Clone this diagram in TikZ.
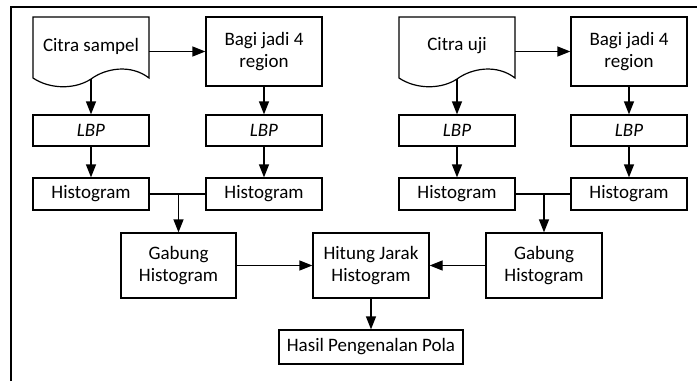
\documentclass[tikz,border=0pt]{standalone}
\usepackage{fontspec}
\setmainfont{Carlito}
\usetikzlibrary{arrows.meta}
\begin{document}
\begin{tikzpicture}[x=1pt,y=-1pt,
  box/.style={draw, line width=1.2pt, minimum width=116pt, inner sep=0pt, align=center,
    font=\fontsize{19}{22}\selectfont},
  docnode/.style={minimum width=116pt, minimum height=61pt, inner sep=0pt, align=center,
    font=\fontsize{19}{22}\selectfont},
  arr/.style={line width=1.2pt, -{Triangle[length=13pt,width=10pt]}},
  ln/.style={line width=1.2pt}]
\useasboundingbox (0,0) rectangle (697,381);
% frame
\draw[line width=1.4pt] (11,381) -- (11,7) -- (697,7);

% left group
\node[docnode] (citraS) at (91,46) {Citra sampel};
\node[box, minimum height=69pt] (bagiL) at (264,51.5) {Bagi jadi 4\\region};
\node[box, minimum height=31pt] (lbpL1) at (91,130.5) {\textit{LBP}};
\node[box, minimum height=31pt] (lbpL2) at (264,130.5) {\textit{LBP}};
\node[box, minimum height=32pt] (histL1) at (91,194) {Histogram};
\node[box, minimum height=32pt] (histL2) at (264,194) {Histogram};
\node[box, minimum width=115pt, minimum height=65pt] (gabL) at (178.5,265.5) {Gabung\\Histogram};

% right group
\node[docnode] (citraU) at (457,46) {Citra uji};
\node[box, minimum height=69pt] (bagiR) at (629,51.5) {Bagi jadi 4\\region};
\node[box, minimum height=31pt] (lbpR1) at (457,130.5) {\textit{LBP}};
\node[box, minimum height=31pt] (lbpR2) at (629,130.5) {\textit{LBP}};
\node[box, minimum height=32pt] (histR1) at (457,194) {Histogram};
\node[box, minimum height=32pt] (histR2) at (629,194) {Histogram};
\node[box, minimum height=65pt] (gabR) at (544,265.5) {Gabung\\Histogram};

% center
\node[box, minimum height=65pt] (hitung) at (371,265.5) {Hitung Jarak\\Histogram};
\node[box, minimum width=184pt, minimum height=34pt] (hasil) at (371,347) {Hasil Pengenalan Pola};

% document shapes
\foreach \n in {citraS,citraU}{
  \begin{scope}[shift={(\n.center)}]
    \draw[ln, line join=miter] (-58,32) -- (-58,-29) -- (58,-29) -- (58,32)
      .. controls (40,18) and (15,22) .. (0,33)
      .. controls (-15,43) and (-40,44) .. (-58,32) -- cycle;
    \coordinate (\n-bot) at (0,33);
  \end{scope}
}

% left arrows
\draw[arr] (citraS.east |- bagiL.west) -- (bagiL.west);
\draw[arr] (citraS-bot) -- (lbpL1.north);
\draw[arr] (bagiL.south) -- (lbpL2.north);
\draw[arr] (lbpL1.south) -- (histL1.north);
\draw[arr] (lbpL2.south) -- (histL2.north);
\draw[ln] (histL1.east) -- (histL2.west);
\coordinate (jL) at (gabL.north |- histL1.east);
\draw[arr] (jL) -- (gabL.north);

% right arrows
\draw[arr] (citraU.east |- bagiR.west) -- (bagiR.west);
\draw[arr] (citraU-bot) -- (lbpR1.north);
\draw[arr] (bagiR.south) -- (lbpR2.north);
\draw[arr] (lbpR1.south) -- (histR1.north);
\draw[arr] (lbpR2.south) -- (histR2.north);
\draw[ln] (histR1.east) -- (histR2.west);
\coordinate (jR) at (gabR.north |- histR1.east);
\draw[arr] (jR) -- (gabR.north);

% center arrows
\draw[arr] (gabL.east) -- (hitung.west);
\draw[arr] (gabR.west) -- (hitung.east);
\draw[arr] (hitung.south) -- (hasil.north);
\end{tikzpicture}
\end{document}
